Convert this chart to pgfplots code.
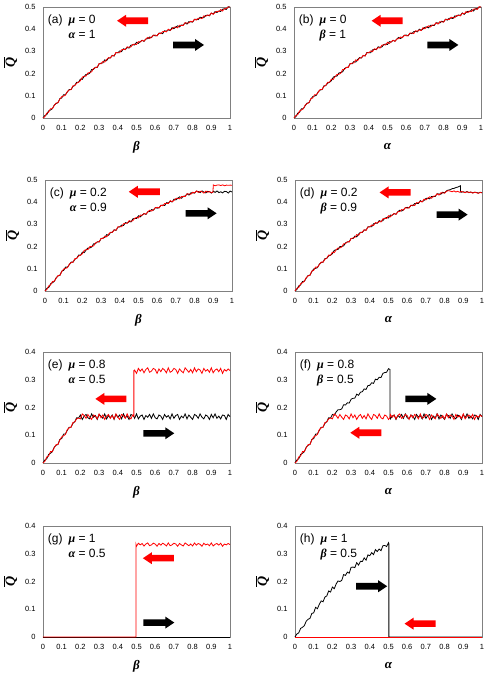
\documentclass[border=0pt]{standalone}
\usepackage{pgfplots}
\pgfplotsset{compat=1.18}
\usepackage{pgfplotstable}
\usepackage{fontspec}
\setmainfont{Liberation Sans}
\newfontfamily\grk{Liberation Serif}

\newcommand{\gk}[1]{{\grk\bfseries\itshape #1}}

% panel label, two lines
\newcommand{\lbl}[5]{\node[anchor=north west, inner sep=0pt, font=\fontsize{12}{15}\selectfont]
  at (rel axis cs:0.025,0.945) {\begin{tabular}{@{}l@{\hspace{6pt}}l@{}}#1 & \gk{#2} = #3\\ & \gk{#4} = #5\end{tabular}};}
% block arrows, tip given in axis units
\newcommand{\rarr}[3]{\fill[#1] (axis cs:#2,#3) ++(-31pt,3.3pt) -- ++(22pt,0pt) -- ++(0pt,2.7pt)
  -- ++(9pt,-6pt) -- ++(-9pt,-6pt) -- ++(0pt,2.7pt) -- ++(-22pt,0pt) -- cycle;}
\newcommand{\larr}[3]{\fill[#1] (axis cs:#2,#3) ++(31pt,3.3pt) -- ++(-22pt,0pt) -- ++(0pt,2.7pt)
  -- ++(-9pt,-6pt) -- ++(9pt,-6pt) -- ++(0pt,2.7pt) -- ++(22pt,0pt) -- cycle;}

\pgfplotsset{
  panel/.style={
    scale only axis, width=187pt, height=111pt,
    xmin=0, xmax=1, ymin=0,
    xtick={0,0.1,0.2,0.3,0.4,0.5,0.6,0.7,0.8,0.9,1},
    tick style={draw=none},
    axis line style={gray, line width=0.5pt},
    tick label style={font=\fontsize{7.5}{9}\selectfont},
    xticklabel style={yshift=-4pt},
    yticklabel style={xshift=-4pt},
    /pgf/number format/assume math mode=true,
    clip=false,
    every axis x label/.style={at={(axis description cs:0.5,-0.26)}, anchor=center, font=\fontsize{13}{15}\selectfont},
    every axis y label/.style={at={(axis description cs:-0.175,0.5)}, rotate=90, anchor=center, font=\fontsize{14}{16}\selectfont},
    ylabel={$\overline{\hbox{\gk{Q}}}$},
  },
  top/.style={panel, ymax=0.5, ytick={0,0.1,0.2,0.3,0.4,0.5}},
  low/.style={panel, ymax=0.4, ytick={0,0.1,0.2,0.3,0.4}},
  kl/.style={black, line width=0.8pt},
  rl/.style={red, line width=0.8pt},
}

% (a) mu=0, alpha=1 ; also used for (b) with the runs swapped
\pgfplotstableread{
x k r
0 0 0
0.01 0.011 0.006
0.02 0.015 0.022
0.03 0.032 0.026
0.04 0.036 0.042
0.05 0.042 0.042
0.06 0.058 0.056
0.07 0.065 0.067
0.08 0.069 0.069
0.09 0.087 0.085
0.10 0.090 0.096
0.11 0.105 0.099
0.12 0.105 0.103
0.13 0.117 0.119
0.14 0.128 0.126
0.15 0.128 0.128
0.16 0.142 0.145
0.17 0.147 0.146
0.18 0.161 0.157
0.19 0.161 0.161
0.20 0.175 0.168
0.21 0.174 0.184
0.22 0.187 0.188
0.23 0.196 0.189
0.24 0.197 0.203
0.25 0.202 0.205
0.26 0.218 0.208
0.27 0.219 0.223
0.28 0.228 0.227
0.29 0.228 0.229
0.30 0.244 0.245
0.31 0.247 0.244
0.32 0.248 0.254
0.33 0.262 0.252
0.34 0.258 0.263
0.35 0.270 0.272
0.36 0.271 0.270
0.37 0.282 0.281
0.38 0.279 0.280
0.39 0.294 0.295
0.40 0.294 0.294
0.41 0.302 0.294
0.42 0.299 0.307
0.43 0.312 0.309
0.44 0.309 0.308
0.45 0.317 0.321
0.46 0.315 0.318
0.47 0.328 0.320
0.48 0.330 0.331
0.49 0.329 0.333
0.50 0.341 0.331
0.51 0.336 0.344
0.52 0.344 0.342
0.53 0.350 0.350
0.54 0.345 0.346
0.55 0.356 0.356
0.56 0.357 0.363
0.57 0.365 0.358
0.58 0.362 0.364
0.59 0.373 0.372
0.60 0.370 0.374
0.61 0.371 0.370
0.62 0.382 0.382
0.63 0.383 0.380
0.64 0.380 0.389
0.65 0.393 0.390
0.66 0.391 0.388
0.67 0.397 0.400
0.68 0.394 0.395
0.69 0.407 0.401
0.70 0.402 0.409
0.71 0.410 0.410
0.72 0.415 0.406
0.73 0.410 0.418
0.74 0.419 0.417
0.75 0.419 0.417
0.76 0.429 0.429
0.77 0.423 0.428
0.78 0.434 0.428
0.79 0.433 0.436
0.80 0.432 0.433
0.81 0.444 0.445
0.82 0.445 0.441
0.83 0.443 0.449
0.84 0.454 0.450
0.85 0.452 0.448
0.86 0.452 0.460
0.87 0.462 0.458
0.88 0.463 0.464
0.89 0.460 0.462
0.90 0.472 0.473
0.91 0.469 0.467
0.92 0.479 0.475
0.93 0.475 0.481
0.94 0.482 0.479
0.95 0.480 0.488
0.96 0.490 0.482
0.97 0.492 0.492
0.98 0.489 0.493
0.99 0.501 0.500
1 0.500 0.500
}\ta

% (c) mu=0.2, alpha=0.9
\pgfplotstableread{
x k r
0 0 0
0.01 0.012 0.007
0.02 0.016 0.023
0.03 0.033 0.027
0.04 0.037 0.043
0.05 0.044 0.044
0.06 0.060 0.058
0.07 0.068 0.070
0.08 0.071 0.071
0.09 0.090 0.088
0.10 0.093 0.099
0.11 0.108 0.102
0.12 0.107 0.105
0.13 0.119 0.121
0.14 0.130 0.128
0.15 0.130 0.130
0.16 0.143 0.146
0.17 0.148 0.147
0.18 0.162 0.158
0.19 0.161 0.161
0.20 0.175 0.168
0.21 0.173 0.183
0.22 0.185 0.186
0.23 0.194 0.187
0.24 0.194 0.200
0.25 0.198 0.201
0.26 0.213 0.203
0.27 0.213 0.217
0.28 0.222 0.221
0.29 0.221 0.222
0.30 0.236 0.237
0.31 0.239 0.236
0.32 0.241 0.247
0.33 0.254 0.244
0.34 0.251 0.256
0.35 0.263 0.265
0.36 0.265 0.264
0.37 0.276 0.275
0.38 0.273 0.274
0.39 0.288 0.289
0.40 0.289 0.289
0.41 0.297 0.289
0.42 0.295 0.303
0.43 0.308 0.305
0.44 0.306 0.305
0.45 0.313 0.317
0.46 0.311 0.314
0.47 0.325 0.317
0.48 0.327 0.328
0.49 0.327 0.331
0.50 0.339 0.329
0.51 0.334 0.342
0.52 0.343 0.341
0.53 0.349 0.349
0.54 0.345 0.346
0.55 0.357 0.357
0.56 0.358 0.364
0.57 0.367 0.360
0.58 0.364 0.366
0.59 0.376 0.375
0.60 0.373 0.377
0.61 0.375 0.374
0.62 0.386 0.386
0.63 0.387 0.384
0.64 0.385 0.394
0.65 0.398 0.395
0.66 0.397 0.394
0.67 0.404 0.407
0.68 0.401 0.402
0.69 0.414 0.408
0.70 0.410 0.417
0.71 0.418 0.418
0.72 0.424 0.415
0.73 0.418 0.426
0.74 0.427 0.425
0.75 0.428 0.426
0.76 0.438 0.438
0.77 0.432 0.437
0.78 0.442 0.436
0.79 0.442 0.445
0.80 0.441 0.442
0.81 0.450 0.451
0.82 0.448 0.444
0.83 0.443 0.449
0.84 0.451 0.447
0.85 0.445 0.441
0.86 0.442 0.450
0.87 0.449 0.445
0.88 0.447 0.448
0.89 0.441 0.443
0.898 0.446 0.445
0.90 0.450 0.478
0.91 0.444 0.474
0.92 0.451 0.477
0.93 0.443 0.478
0.94 0.447 0.475
0.95 0.442 0.478
0.96 0.449 0.474
0.97 0.448 0.477
0.98 0.441 0.476
0.99 0.450 0.477
1 0.446 0.476
}\tc

% (d) mu=0.2, beta=0.9
\pgfplotstableread{
x k r
0 0 0
0.01 0.007 0.012
0.02 0.023 0.016
0.03 0.027 0.033
0.04 0.043 0.037
0.05 0.044 0.044
0.06 0.058 0.060
0.07 0.070 0.068
0.08 0.071 0.071
0.09 0.088 0.090
0.10 0.099 0.093
0.11 0.102 0.108
0.12 0.105 0.107
0.13 0.121 0.119
0.14 0.128 0.130
0.15 0.130 0.130
0.16 0.146 0.143
0.17 0.147 0.148
0.18 0.158 0.162
0.19 0.161 0.161
0.20 0.168 0.175
0.21 0.183 0.173
0.22 0.186 0.185
0.23 0.187 0.194
0.24 0.200 0.194
0.25 0.201 0.198
0.26 0.203 0.213
0.27 0.217 0.213
0.28 0.221 0.222
0.29 0.222 0.221
0.30 0.237 0.236
0.31 0.236 0.239
0.32 0.247 0.241
0.33 0.244 0.254
0.34 0.256 0.251
0.35 0.265 0.263
0.36 0.264 0.265
0.37 0.275 0.276
0.38 0.274 0.273
0.39 0.289 0.288
0.40 0.289 0.289
0.41 0.289 0.297
0.42 0.303 0.295
0.43 0.305 0.308
0.44 0.305 0.306
0.45 0.317 0.313
0.46 0.314 0.311
0.47 0.317 0.325
0.48 0.328 0.327
0.49 0.331 0.327
0.50 0.329 0.339
0.51 0.342 0.334
0.52 0.341 0.343
0.53 0.349 0.349
0.54 0.346 0.345
0.55 0.357 0.357
0.56 0.364 0.358
0.57 0.360 0.367
0.58 0.366 0.364
0.59 0.375 0.376
0.60 0.377 0.373
0.61 0.374 0.375
0.62 0.386 0.386
0.63 0.384 0.387
0.64 0.394 0.385
0.65 0.395 0.398
0.66 0.394 0.397
0.67 0.407 0.404
0.68 0.402 0.401
0.69 0.408 0.414
0.70 0.417 0.410
0.71 0.418 0.418
0.72 0.415 0.424
0.73 0.426 0.418
0.74 0.425 0.427
0.75 0.426 0.428
0.76 0.438 0.438
0.77 0.437 0.432
0.78 0.436 0.442
0.79 0.445 0.442
0.80 0.442 0.441
0.81 0.451 0.449
0.82 0.455 0.452
0.83 0.456 0.450
0.84 0.461 0.447
0.85 0.462 0.451
0.86 0.466 0.446
0.87 0.468 0.449
0.88 0.472 0.445
0.885 0.474 0.447
0.885 0.446 0.447
0.89 0.445 0.448
0.90 0.447 0.446
0.91 0.444 0.443
0.92 0.448 0.447
0.93 0.443 0.444
0.94 0.446 0.446
0.95 0.442 0.441
0.96 0.445 0.445
0.97 0.444 0.443
0.98 0.441 0.440
0.99 0.445 0.444
1 0.443 0.442
}\td

% (e) mu=0.8, alpha=0.5
\pgfplotstableread{
x k r
0 0 0
0.01 0.011 0.006
0.02 0.015 0.022
0.03 0.031 0.025
0.04 0.035 0.041
0.05 0.041 0.041
0.06 0.057 0.055
0.07 0.064 0.066
0.08 0.067 0.067
0.09 0.085 0.083
0.10 0.088 0.094
0.11 0.104 0.098
0.12 0.105 0.103
0.13 0.118 0.120
0.14 0.129 0.127
0.15 0.129 0.129
0.16 0.143 0.146
0.17 0.149 0.148
0.18 0.163 0.159
0.19 0.162 0.162
0.20 0.173 0.159
0.21 0.157 0.177
0.22 0.169 0.171
0.23 0.175 0.161
0.24 0.163 0.175
0.25 0.159 0.165
0.26 0.177 0.157
0.27 0.165 0.173
0.28 0.171 0.169
0.29 0.157 0.159
0.30 0.175 0.177
0.31 0.169 0.163
0.32 0.161 0.173
0.33 0.177 0.157
0.34 0.159 0.169
0.35 0.171 0.175
0.36 0.163 0.161
0.37 0.173 0.171
0.38 0.157 0.159
0.39 0.175 0.177
0.40 0.165 0.165
0.41 0.173 0.157
0.42 0.159 0.175
0.43 0.177 0.171
0.44 0.163 0.161
0.45 0.169 0.177
0.46 0.157 0.163
0.47 0.175 0.159
0.48 0.171 0.173
0.486 0.167 0.168
0.486 0.167 0.333
0.49 0.161 0.335
0.50 0.177 0.323
0.51 0.159 0.341
0.52 0.169 0.331
0.53 0.173 0.339
0.54 0.157 0.325
0.55 0.171 0.337
0.56 0.165 0.343
0.57 0.175 0.327
0.58 0.161 0.331
0.59 0.177 0.341
0.60 0.163 0.337
0.61 0.159 0.323
0.62 0.173 0.339
0.63 0.169 0.329
0.64 0.157 0.341
0.65 0.175 0.335
0.66 0.165 0.325
0.67 0.171 0.343
0.68 0.159 0.327
0.69 0.177 0.331
0.70 0.161 0.341
0.71 0.171 0.337
0.72 0.175 0.323
0.73 0.157 0.339
0.74 0.169 0.331
0.75 0.163 0.325
0.76 0.177 0.343
0.77 0.159 0.335
0.78 0.173 0.327
0.79 0.165 0.337
0.80 0.157 0.325
0.81 0.175 0.343
0.82 0.171 0.329
0.83 0.161 0.339
0.84 0.177 0.335
0.85 0.165 0.323
0.86 0.159 0.341
0.87 0.173 0.331
0.88 0.169 0.337
0.89 0.157 0.327
0.90 0.175 0.343
0.91 0.163 0.325
0.92 0.177 0.335
0.93 0.161 0.339
0.94 0.169 0.329
0.95 0.159 0.341
0.96 0.173 0.323
0.97 0.171 0.337
0.98 0.157 0.331
0.99 0.175 0.339
1 0.167 0.333
}\te

% (f) mu=0.8, beta=0.5
\pgfplotstableread{
x k r
0 0 0
0.01 0.011 0.006
0.02 0.015 0.022
0.03 0.031 0.025
0.04 0.035 0.041
0.05 0.041 0.041
0.06 0.057 0.055
0.07 0.064 0.066
0.08 0.067 0.067
0.09 0.085 0.083
0.10 0.088 0.094
0.11 0.104 0.098
0.12 0.105 0.103
0.13 0.118 0.120
0.14 0.129 0.127
0.15 0.129 0.129
0.16 0.143 0.146
0.17 0.149 0.148
0.18 0.163 0.159
0.19 0.162 0.162
0.20 0.175 0.159
0.21 0.172 0.177
0.22 0.184 0.171
0.23 0.192 0.161
0.24 0.192 0.175
0.25 0.195 0.165
0.26 0.210 0.157
0.27 0.209 0.173
0.28 0.217 0.169
0.29 0.216 0.159
0.30 0.230 0.177
0.31 0.233 0.163
0.32 0.234 0.173
0.33 0.248 0.157
0.34 0.244 0.169
0.35 0.255 0.175
0.36 0.257 0.161
0.37 0.267 0.171
0.38 0.265 0.159
0.39 0.279 0.177
0.40 0.280 0.165
0.41 0.289 0.157
0.42 0.287 0.175
0.43 0.302 0.171
0.44 0.300 0.161
0.45 0.309 0.177
0.46 0.308 0.163
0.47 0.323 0.159
0.48 0.326 0.173
0.49 0.327 0.169
0.50 0.340 0.157
0.508 0.337 0.163
0.508 0.167 0.163
0.51 0.159 0.175
0.52 0.169 0.165
0.53 0.173 0.173
0.54 0.157 0.159
0.55 0.171 0.171
0.56 0.165 0.177
0.57 0.175 0.161
0.58 0.161 0.165
0.59 0.177 0.175
0.60 0.163 0.171
0.61 0.159 0.157
0.62 0.173 0.173
0.63 0.169 0.163
0.64 0.157 0.175
0.65 0.175 0.169
0.66 0.165 0.159
0.67 0.171 0.177
0.68 0.159 0.161
0.69 0.177 0.165
0.70 0.161 0.175
0.71 0.171 0.171
0.72 0.175 0.157
0.73 0.157 0.173
0.74 0.169 0.165
0.75 0.163 0.159
0.76 0.177 0.177
0.77 0.159 0.169
0.78 0.173 0.161
0.79 0.165 0.171
0.80 0.157 0.159
0.81 0.175 0.177
0.82 0.171 0.163
0.83 0.161 0.173
0.84 0.177 0.169
0.85 0.165 0.157
0.86 0.159 0.175
0.87 0.173 0.165
0.88 0.169 0.171
0.89 0.157 0.161
0.90 0.175 0.177
0.91 0.163 0.159
0.92 0.177 0.169
0.93 0.161 0.173
0.94 0.169 0.163
0.95 0.159 0.175
0.96 0.173 0.157
0.97 0.171 0.171
0.98 0.157 0.165
0.99 0.175 0.173
1 0.167 0.167
}\tf

\begin{document}
\begin{tikzpicture}
\useasboundingbox (0,0) rectangle (491pt,-680pt);

% (a)
\begin{axis}[top, at={(43pt,-7pt)}, anchor=north west, xlabel={\gk{β}}]
\addplot[kl] table[x=x,y=k] {\ta};
\addplot[rl] table[x=x,y=r] {\ta};
\lbl{(a)}{μ}{0}{α}{1}
\larr{red}{0.396}{0.438}
\rarr{black}{0.861}{0.329}
\end{axis}

% (b)
\begin{axis}[top, at={(294pt,-7pt)}, anchor=north west, xlabel={\gk{α}}]
\addplot[kl] table[x=x,y=r] {\ta};
\addplot[rl] table[x=x,y=k] {\ta};
\lbl{(b)}{μ}{0}{β}{1}
\larr{red}{0.415}{0.438}
\rarr{black}{0.879}{0.329}
\end{axis}

% (c)
\begin{axis}[top, at={(45pt,-180pt)}, anchor=north west, xlabel={\gk{β}}]
\addplot[kl] table[x=x,y=k] {\tc};
\addplot[rl] table[x=x,y=r] {\tc};
\lbl{(c)}{μ}{0.2}{α}{0.9}
\larr{red}{0.448}{0.447}
\rarr{black}{0.918}{0.350}
\end{axis}

% (d)
\begin{axis}[top, at={(295pt,-180pt)}, anchor=north west, xlabel={\gk{α}}]
\addplot[kl] table[x=x,y=k] {\td};
\addplot[rl] table[x=x,y=r] {\td};
\lbl{(d)}{μ}{0.2}{β}{0.9}
\larr{red}{0.452}{0.444}
\rarr{black}{0.923}{0.344}
\end{axis}

% (e)
\begin{axis}[low, at={(43pt,-352pt)}, anchor=north west, xlabel={\gk{β}}]
\addplot[kl] table[x=x,y=k] {\te};
\addplot[rl] table[x=x,y=r] {\te};
\lbl{(e)}{μ}{0.8}{α}{0.5}
\larr{red}{0.280}{0.231}
\rarr{black}{0.702}{0.107}
\end{axis}

% (f)
\begin{axis}[low, at={(295pt,-352pt)}, anchor=north west, xlabel={\gk{α}}]
\addplot[kl] table[x=x,y=k] {\tf};
\addplot[rl] table[x=x,y=r] {\tf};
\lbl{(f)}{μ}{0.8}{β}{0.5}
\rarr{black}{0.756}{0.231}
\larr{red}{0.296}{0.109}
\end{axis}

% (g)
\begin{axis}[low, at={(43pt,-526pt)}, anchor=north west, xlabel={\gk{β}}]
\addplot[kl] coordinates {(0,0) (1,0)};
\addplot[rl] coordinates {
(0,0) (0.497,0) (0.497,0.334) (0.50,0.327) (0.51,0.338) (0.52,0.332) (0.53,0.337) (0.54,0.328)
(0.55,0.335) (0.56,0.339) (0.57,0.329) (0.58,0.332) (0.59,0.338) (0.60,0.335) (0.61,0.327)
(0.62,0.337) (0.63,0.331) (0.64,0.338) (0.65,0.334) (0.66,0.328) (0.67,0.339) (0.68,0.329)
(0.69,0.332) (0.70,0.338) (0.71,0.335) (0.72,0.327) (0.73,0.337) (0.74,0.332) (0.75,0.328)
(0.76,0.339) (0.77,0.334) (0.78,0.329) (0.79,0.335) (0.80,0.328) (0.81,0.339) (0.82,0.331)
(0.83,0.337) (0.84,0.334) (0.85,0.327) (0.86,0.338) (0.87,0.332) (0.88,0.335) (0.89,0.329)
(0.90,0.339) (0.91,0.328) (0.92,0.334) (0.93,0.337) (0.94,0.331) (0.95,0.338) (0.96,0.327)
(0.97,0.335) (0.98,0.332) (0.99,0.337) (1,0.333)};
\lbl{(g)}{μ}{1}{α}{0.5}
\larr{red}{0.534}{0.284}
\rarr{black}{0.702}{0.052}
\end{axis}

% (h)
\begin{axis}[low, at={(295pt,-526pt)}, anchor=north west, xlabel={\gk{α}}]
\addplot[kl] coordinates {
(0,0) (0.01,0.011) (0.02,0.015) (0.03,0.031) (0.04,0.035) (0.05,0.041) (0.06,0.057) (0.07,0.064)
(0.08,0.067) (0.09,0.085) (0.10,0.087) (0.11,0.107) (0.12,0.102) (0.13,0.118) (0.14,0.130)
(0.15,0.127) (0.16,0.144) (0.17,0.148) (0.18,0.166) (0.19,0.162) (0.20,0.180) (0.21,0.174)
(0.22,0.191) (0.23,0.202) (0.24,0.200) (0.25,0.204) (0.26,0.225) (0.27,0.222) (0.28,0.234)
(0.29,0.230) (0.30,0.251) (0.31,0.252) (0.32,0.250) (0.33,0.268) (0.34,0.259) (0.35,0.273)
(0.36,0.272) (0.37,0.285) (0.38,0.277) (0.39,0.296) (0.40,0.293) (0.41,0.304) (0.42,0.297)
(0.43,0.315) (0.44,0.308) (0.45,0.317) (0.46,0.311) (0.47,0.329) (0.48,0.330) (0.49,0.326)
(0.50,0.340) (0.502,0.336) (0.502,0) (1,0)};
\addplot[rl] coordinates {(0,0) (1,0)};
\lbl{(h)}{μ}{1}{β}{0.5}
\rarr{black}{0.493}{0.183}
\larr{red}{0.586}{0.048}
\end{axis}
\end{tikzpicture}
\end{document}
